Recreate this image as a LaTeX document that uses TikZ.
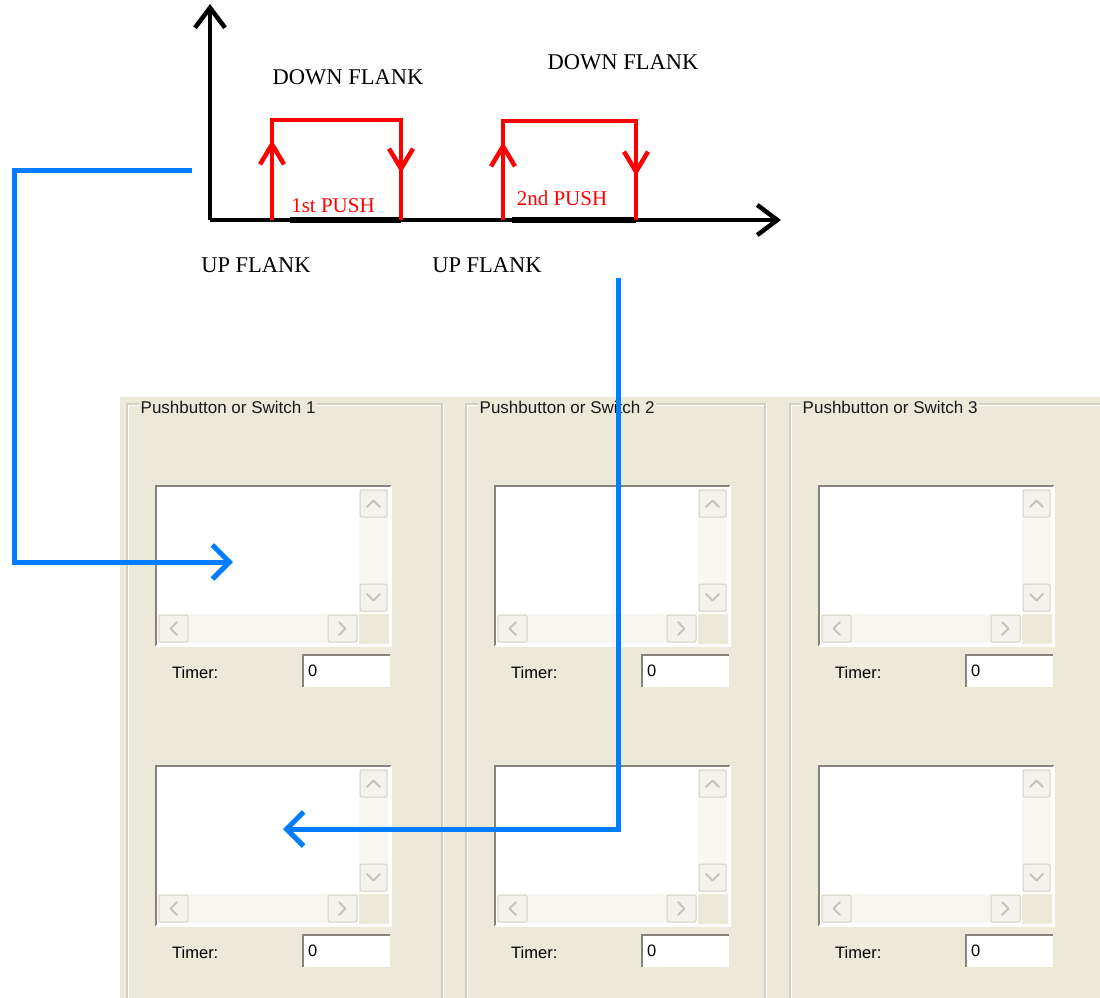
\documentclass[tikz,border=0pt]{standalone}
\usepackage{fontspec}
\setmainfont{Liberation Serif}
\setsansfont{Liberation Sans}
\usetikzlibrary{arrows.meta}
\definecolor{xpbeige}{HTML}{ECE9D8}
\definecolor{grpline}{HTML}{D0D0BF}
\definecolor{lbdark}{HTML}{85837A}
\definecolor{btnfill}{HTML}{F3F2EC}
\definecolor{btnline}{HTML}{D6D4C8}
\definecolor{btnarrow}{HTML}{C6C4B8}
\definecolor{trackfill}{HTML}{F7F6F1}
\definecolor{bluearrow}{RGB}{0,125,255}
\definecolor{pushred}{RGB}{255,0,0}
\tikzset{
  axis/.style={line width=4.5pt, black, line join=miter},
  axishead/.style={-{Straight Barb[length=20pt,width=30pt]}},
  redl/.style={line width=4.5pt, pushred, line join=miter},
  redhead/.style={-{Straight Barb[length=20pt,width=24pt]}},
  blueconn/.style={line width=5pt, bluearrow, line join=miter, -{Straight Barb[length=17pt,width=34pt]}},
  flank/.style={font=\fontsize{22.5}{25}\selectfont, text=black, inner sep=0pt},
  pushlbl/.style={font=\fontsize{21}{24}\selectfont, text=pushred, inner sep=0pt},
  grptitle/.style={font=\sffamily\fontsize{17}{19}\selectfont, text=black!90, fill=xpbeige, inner sep=1.5pt, anchor=west},
  timerlbl/.style={font=\sffamily\fontsize{16.5}{18}\selectfont, inner sep=0pt, anchor=west},
  zerolbl/.style={font=\sffamily\fontsize{16.5}{18}\selectfont, inner sep=0pt, anchor=west},
  sbtn/.style={fill=btnfill, draw=btnline, line width=1pt, rounded corners=2pt},
  sarrow/.style={draw=btnarrow, line width=2pt, line cap=round, line join=round},
}
\newcommand{\listboxat}[3]{% #1 name, #2 left x, #3 top y
  \begin{scope}[shift={(#2,#3)}]
    \fill[white] (0,0) rectangle (235,160);
    \draw[lbdark, line width=2.5pt] (0,160) -- (0,0) -- (235,0);
    \draw[white, line width=1.5pt] (235,0) -- (235,160) -- (0,160);
    \fill[trackfill] (203,3) rectangle (232,127);
    \fill[trackfill] (2,128) rectangle (202,157);
    \fill[xpbeige] (203,128) rectangle (233,158);
    \draw[sbtn] (204,4) rectangle (231,31);
    \draw[sarrow] (211,21) -- (217.5,14.5) -- (224,21);
    \draw[sbtn] (204,98) rectangle (231,125);
    \draw[sarrow] (211,108) -- (217.5,114.5) -- (224,108);
    \draw[sbtn] (3,129) rectangle (32,156);
    \draw[sarrow] (21,136) -- (14.5,142.5) -- (21,149);
    \draw[sbtn] (172,129) rectangle (201,156);
    \draw[sarrow] (183,136) -- (189.5,142.5) -- (183,149);
    \node[timerlbl] (#1timer) at (16,187) {Timer:};
    \fill[white] (147,169) rectangle (234,201);
    \draw[lbdark, line width=2.5pt] (147,201) -- (147,169) -- (234,169);
    \node[zerolbl] (#1zero) at (152,185) {0};
  \end{scope}
}
\begin{document}
\begin{tikzpicture}[x=1pt,y=-1pt]
\useasboundingbox (0,0) rectangle (1100,998);
\fill[white] (0,0) rectangle (1100,998);
% ---------- GUI panel ----------
\fill[xpbeige] (120,397) rectangle (1100,998);
% group boxes
\draw[grpline, line width=1.5pt] (127,1010) -- (127,404) -- (442,404) -- (442,1010);
\draw[white, line width=1.2pt] (128.8,1010) -- (128.8,405.8) -- (440.5,405.8);
\draw[white, line width=1.2pt] (443.8,404) -- (443.8,1010);
\draw[grpline, line width=1.5pt] (466,1010) -- (466,404) -- (765,404) -- (765,1010);
\draw[white, line width=1.2pt] (467.8,1010) -- (467.8,405.8) -- (763.5,405.8);
\draw[white, line width=1.2pt] (766.8,404) -- (766.8,1010);
\draw[grpline, line width=1.5pt] (790,1010) -- (790,404) -- (1110,404);
\draw[white, line width=1.2pt] (791.8,1010) -- (791.8,405.8) -- (1110,405.8);
\node[grptitle] (g1title) at (139,407) {Pushbutton or Switch 1};
\node[grptitle] (g2title) at (478,407) {Pushbutton or Switch 2};
\node[grptitle] (g3title) at (801,407) {Pushbutton or Switch 3};
% list boxes
\listboxat{lbAa}{156}{486}
\listboxat{lbAb}{156}{766}
\listboxat{lbBa}{495}{486}
\listboxat{lbBb}{495}{766}
\listboxat{lbCa}{819}{486}
\listboxat{lbCb}{819}{766}
% ---------- timing chart ----------
\coordinate (origin) at (210,220);
\coordinate (ytip) at (210,4);
\coordinate (xtip) at (781,220);
\draw[axis, axishead] (origin) -- (ytip);
\draw[axis, axishead] (origin) -- (xtip);
\draw[line width=6pt, black] (290,220) -- (401,220);
\draw[line width=6pt, black] (512,220) -- (636,220);
% pulse 1
\draw[redl] (272,220) -- (272,120) -- (401,120) -- (401,220);
\draw[redl, redhead] (272,220) -- (272,140);
\draw[redl, redhead] (401,120) -- (401,173);
% pulse 2
\draw[redl] (503,220) -- (503,121) -- (636,121) -- (636,220);
\draw[redl, redhead] (503,220) -- (503,142);
\draw[redl, redhead] (636,121) -- (636,176);
\node[pushlbl] (push1) at (333,206) {1st PUSH};
\node[pushlbl] (push2) at (562,198) {2nd PUSH};
\node[flank] (down1) at (348,77) {DOWN FLANK};
\node[flank] (down2) at (623,62) {DOWN FLANK};
\node[flank] (up1) at (256,265) {UP FLANK};
\node[flank] (up2) at (487,265) {UP FLANK};
% ---------- blue connectors ----------
\coordinate (c1s) at (192,170);
\coordinate (c1m) at (14,400);
\coordinate (c1e) at (233,562);
\coordinate (c2s) at (618,278);
\coordinate (c2e) at (283,829);
\draw[blueconn] (c1s) -| (c1m) |- (c1e);
\draw[blueconn] (c2s) |- (c2e);
\end{tikzpicture}
\end{document}
